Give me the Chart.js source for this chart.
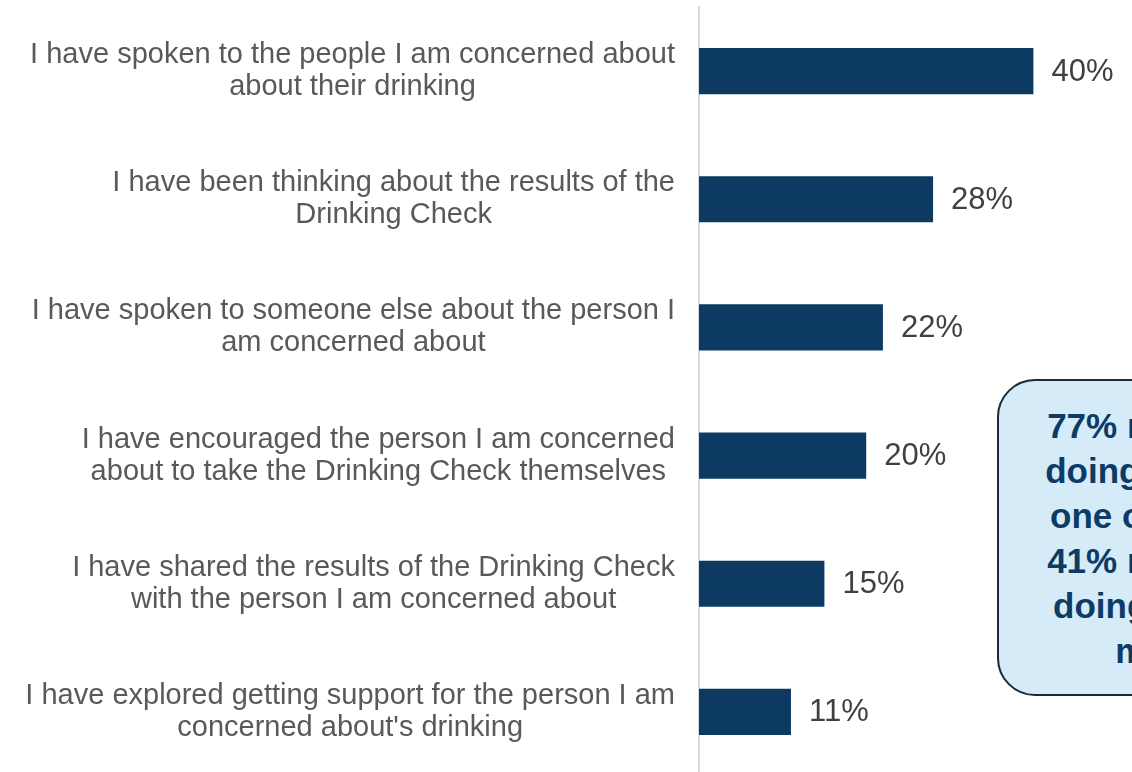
<!DOCTYPE html>
<html>
<head>
<meta charset="utf-8">
<script src="https://cdn.jsdelivr.net/npm/chart.js@4.4.1/dist/chart.umd.min.js"></script>
<style>
  html, body { margin: 0; padding: 0; background: #ffffff; }
  body { width: 1132px; height: 772px; overflow: hidden; position: relative; }
  #wrap { position: absolute; left: 0; top: 0; width: 1132px; height: 776px; }
  #callout {
    position: absolute; left: 997px; top: 379px; width: 318px; height: 313px;
    border: 2px solid #1b2a38; border-radius: 38px; background: #d5ecf8;
    display: flex; align-items: center; justify-content: center; text-align: center;
    font-family: "Liberation Sans", Arial, sans-serif; font-weight: bold;
    font-size: 35px; line-height: 45px; color: #0d3b66;
  }
</style>
</head>
<body>
<div id="wrap"><canvas id="c" width="1132" height="776"></canvas></div>
<div id="callout"><div>77% reported<br>doing at least<br>one of these,<br>41% reported<br>doing two or<br>more</div></div>
<script>
const categories = [
  ["I have spoken to the people I am concerned about", "about their drinking"],
  ["I have been thinking about the results of the", "Drinking Check"],
  ["I have spoken to someone else about the person I", "am concerned about"],
  ["I have encouraged the person I am concerned", "about to take the Drinking Check themselves"],
  ["I have shared the results of the Drinking Check", "with the person I am concerned about"],
  ["I have explored getting support for the person I am", "concerned about's drinking"]
];
const values = [40, 28, 22, 20, 15, 11];
const valueLabels = ["40%", "28%", "22%", "20%", "15%", "11%"];

const labelFont = '29px "Liberation Sans", Arial, sans-serif';
const valueFont = '31px "Liberation Sans", Arial, sans-serif';

const labelPlugin = {
  id: 'customLabels',
  afterDatasetsDraw(chart) {
    const ctx = chart.ctx;
    const yScale = chart.scales.y;
    const meta = chart.getDatasetMeta(0);
    ctx.save();
    ctx.font = labelFont;
    ctx.fillStyle = '#595959';
    ctx.textAlign = 'center';
    ctx.textBaseline = 'middle';
    const rightEdge = chart.chartArea.left - 24;
    const lh = 32;
    categories.forEach((lines, i) => {
      const y = yScale.getPixelForValue(i);
      const w = Math.max(...lines.map(l => ctx.measureText(l).width));
      const cx = rightEdge - w / 2;
      const y0 = y - (lines.length - 1) * lh / 2;
      lines.forEach((l, k) => ctx.fillText(l, cx, y0 + k * lh));
    });
    ctx.font = valueFont;
    ctx.fillStyle = '#404040';
    ctx.textAlign = 'left';
    meta.data.forEach((bar, i) => {
      ctx.fillText(valueLabels[i], bar.x + 18, bar.y + 1);
    });
    ctx.restore();
  }
};

new Chart(document.getElementById('c'), {
  type: 'bar',
  data: {
    labels: categories,
    datasets: [{
      data: values,
      backgroundColor: '#0c3a63',
      borderWidth: 0,
      categoryPercentage: 1,
      barPercentage: 0.36
    }]
  },
  options: {
    indexAxis: 'y',
    responsive: false,
    animation: false,
    events: [],
    layout: { padding: { top: 7, right: 15, bottom: 0, left: 0 } },
    plugins: { legend: { display: false }, tooltip: { enabled: false } },
    scales: {
      x: { display: false, min: 0, max: 50 },
      y: {
        position: 'left',
        grid: { display: false },
        border: { display: true, color: '#d9d9d9', width: 2 },
        ticks: { display: false },
        afterFit(scale) { scale.width = 699; }
      }
    }
  },
  plugins: [labelPlugin]
});
</script>
</body>
</html>
